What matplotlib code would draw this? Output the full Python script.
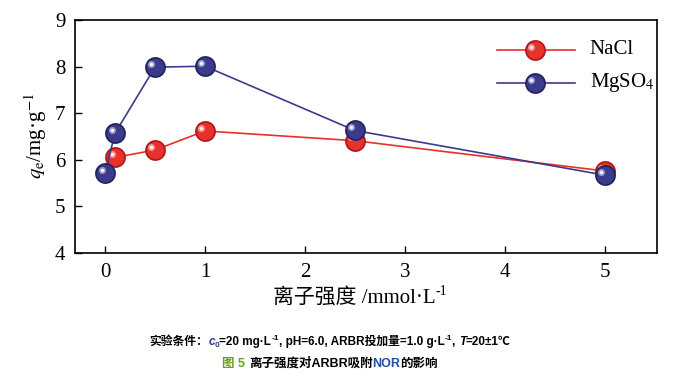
import matplotlib
matplotlib.use("Agg")
import matplotlib.pyplot as plt

plt.rcParams["mathtext.fontset"] = "stix"

# data
nacl_x = [0.1, 0.5, 1.0, 2.5, 5.0]
nacl_y = [6.05, 6.21, 6.62, 6.41, 5.76]
mgso4_x = [0.0, 0.1, 0.5, 1.0, 2.5, 5.0]
mgso4_y = [5.71, 6.57, 7.99, 8.01, 6.63, 5.67]
series_names = ["NaCl", "MgSO$_4$"]
series_colors = ["#e8302c", "#3b3b8e"]
series_dark = ["#b01818", "#23235e"]

serif = ["Liberation Serif", "Noto Sans CJK SC"]
sans = ["Liberation Sans", "Noto Sans CJK SC"]

W, H = 682, 373
fig = plt.figure(figsize=(W / 100, H / 100), dpi=100)
ax = fig.add_axes([0.110, 0.322, 0.853, 0.624])
renderer = fig.canvas.get_renderer()


def sphere(ax, xs, ys, color, dark, z):
    # fake 3D ball: dark rim, body, highlight
    ax.plot(xs, ys, "-", color=color, lw=1.2, zorder=z)
    ax.plot(xs, ys, "o", ms=15, mfc=dark, mec="none", zorder=z + 0.1)
    ax.plot(xs, ys, "o", ms=12.5, mfc=color, mec="none", zorder=z + 0.2)
    hx = [x - 0.035 for x in xs]
    hy = [y + 0.07 for y in ys]
    ax.plot(hx, hy, "o", ms=5, mfc="white", mec="none", alpha=0.5, zorder=z + 0.3)
    ax.plot(hx, hy, "o", ms=2.5, mfc="white", mec="none", alpha=0.9, zorder=z + 0.4)


sphere(ax, nacl_x, nacl_y, series_colors[0], series_dark[0], 2)
sphere(ax, mgso4_x, mgso4_y, series_colors[1], series_dark[1], 3)

# legend drawn by hand with the same sphere style
for i, (name, c, d) in enumerate(zip(series_names, series_colors, series_dark)):
    yy = 8.36 - i * 0.71
    ax.plot([3.92, 4.70], [yy, yy], "-", color=c, lw=1.2, zorder=4)
    sphere(ax, [4.3], [yy], c, d, 4)
    ax.text(4.85, yy, name, fontsize=15, family=serif, va="center", ha="left")

ax.set_xlim(-0.3, 5.52)
ax.set_ylim(4, 9)
ax.set_xticks([0, 1, 2, 3, 4, 5])
ax.set_yticks([4, 5, 6, 7, 8, 9])
ax.tick_params(direction="in", length=5, width=1, labelsize=15, pad=7)
for lab in ax.get_xticklabels() + ax.get_yticklabels():
    lab.set_family(serif)
for s in ax.spines.values():
    s.set_linewidth(1.2)

ax.set_ylabel("$q_\\mathrm{e}$/mg·g$^{-1}$", fontsize=15, family=serif, labelpad=4)


def pieces(xc, yc, parts):
    # lay text parts side by side, centred on pixel (xc, yc) from top-left
    texts = []
    for s, kw, dy in parts:
        t = fig.text(0, 0, s, va="baseline", ha="left", **kw)
        texts.append((t, dy))
    widths = [t.get_window_extent(renderer).width for t, _ in texts]
    x = xc - sum(widths) / 2
    for (t, dy), w in zip(texts, widths):
        t.set_position((x / W, 1 - (yc - dy) / H))
        x += w


# x axis label
xl = dict(fontsize=15, family=serif)
pieces(360, 303, [("离子强度 /mmol·L", xl, 0),
                  ("-1", dict(fontsize=10, family=serif), 8)])

# caption lines
b = dict(fontsize=8.5, weight="bold", family=sans)
bs = dict(fontsize=6, weight="bold", family=sans)
pieces(330, 345, [("实验条件：", b, 0),
                  ("c", dict(b, style="italic", color="#2a3c8f"), 0),
                  ("0", dict(bs, color="#2a3c8f"), -2),
                  ("=20 mg·L", b, 0), ("-1", bs, 5),
                  (", pH=6.0, ARBR投加量=1.0 g·L", b, 0), ("-1", bs, 5),
                  (", ", b, 0), ("T", dict(b, style="italic"), 0),
                  ("=20±1℃", b, 0)])
c = dict(fontsize=9, weight="bold", family=sans)
pieces(330, 367, [("图 5 ", dict(c, color="#6aa121"), 0),
                  ("离子强度对ARBR吸附", c, 0),
                  ("NOR", dict(c, color="#1f4e9c"), 0),
                  ("的影响", c, 0)])

fig.savefig("out.png", dpi=100)
